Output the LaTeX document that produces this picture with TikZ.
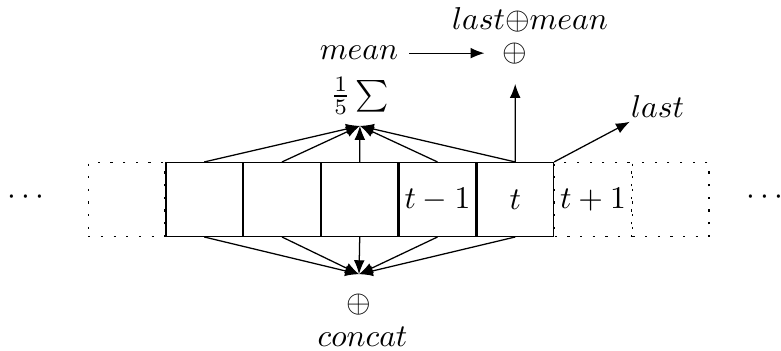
\documentclass[tikz,border=0pt]{standalone}
\usepackage{amsmath, amssymb}
\usepackage{tikz}
\usetikzlibrary{arrows.meta, positioning}

\begin{document}
\begin{tikzpicture}[>={Latex[length=4.4pt, width=3.4pt]},
  cell/.style={draw, minimum width=0.85cm, minimum height=0.82cm, inner sep=0pt},
  ghost/.style={cell, dash pattern=on 0.7pt off 3.3pt},
  lbl/.style={inner sep=1pt, outer sep=2.5pt},
  oplus/.style={circle, inner sep=1pt, outer sep=3.2pt}]
  \useasboundingbox (0,0) rectangle (8.68,3.9);
  % window of five cells
  \node[cell] (c1) at (2.27,1.683) {};
  \node[cell, right=0pt of c1] (c2) {};
  \node[cell, right=0pt of c2] (c3) {};
  \node[cell, right=0pt of c3] (c4) {$t-1$};
  \node[cell, right=0pt of c4] (c5) {$t$};
  % cells outside the window
  \node[ghost, left=0pt of c1] (g0) {};
  \node[ghost, right=0pt of c5] (g6) {$t+1$};
  \node[ghost, right=0pt of g6] (g7) {};
  \node (dotsl) at (0.32,1.7) {$\cdots$};
  \node (dotsr) at (8.53,1.7) {$\cdots$};

  \node[lbl] (sum) at (4.0,2.833) {$\frac{1}{5}\sum$};
  \node[lbl] (mean) at (3.99,3.309) {$mean$};
  \node[oplus] (plusup) at (5.726,3.309) {$\oplus$};
  \node[lbl] (lastmean) at (5.89,3.674) {$last{\oplus}mean$};
  \node[inner sep=1pt] (last) at (7.31,2.711) {$last$};
  \node[oplus] (plusdn) at (3.99,0.511) {$\oplus$};
  \node[lbl] (concat) at (4.03,0.152) {$concat$};

  \foreach \i in {1,...,5} {
    \draw[->] (c\i.north) -- (sum.south);
    \draw[->] (c\i.south) -- (plusdn.north);
  }
  \draw[->] (c5.north) -- (plusup);
  \draw[->] (mean) -- (plusup);
  \draw[->] (c5.north east) -- (last);
\end{tikzpicture}
\end{document}
